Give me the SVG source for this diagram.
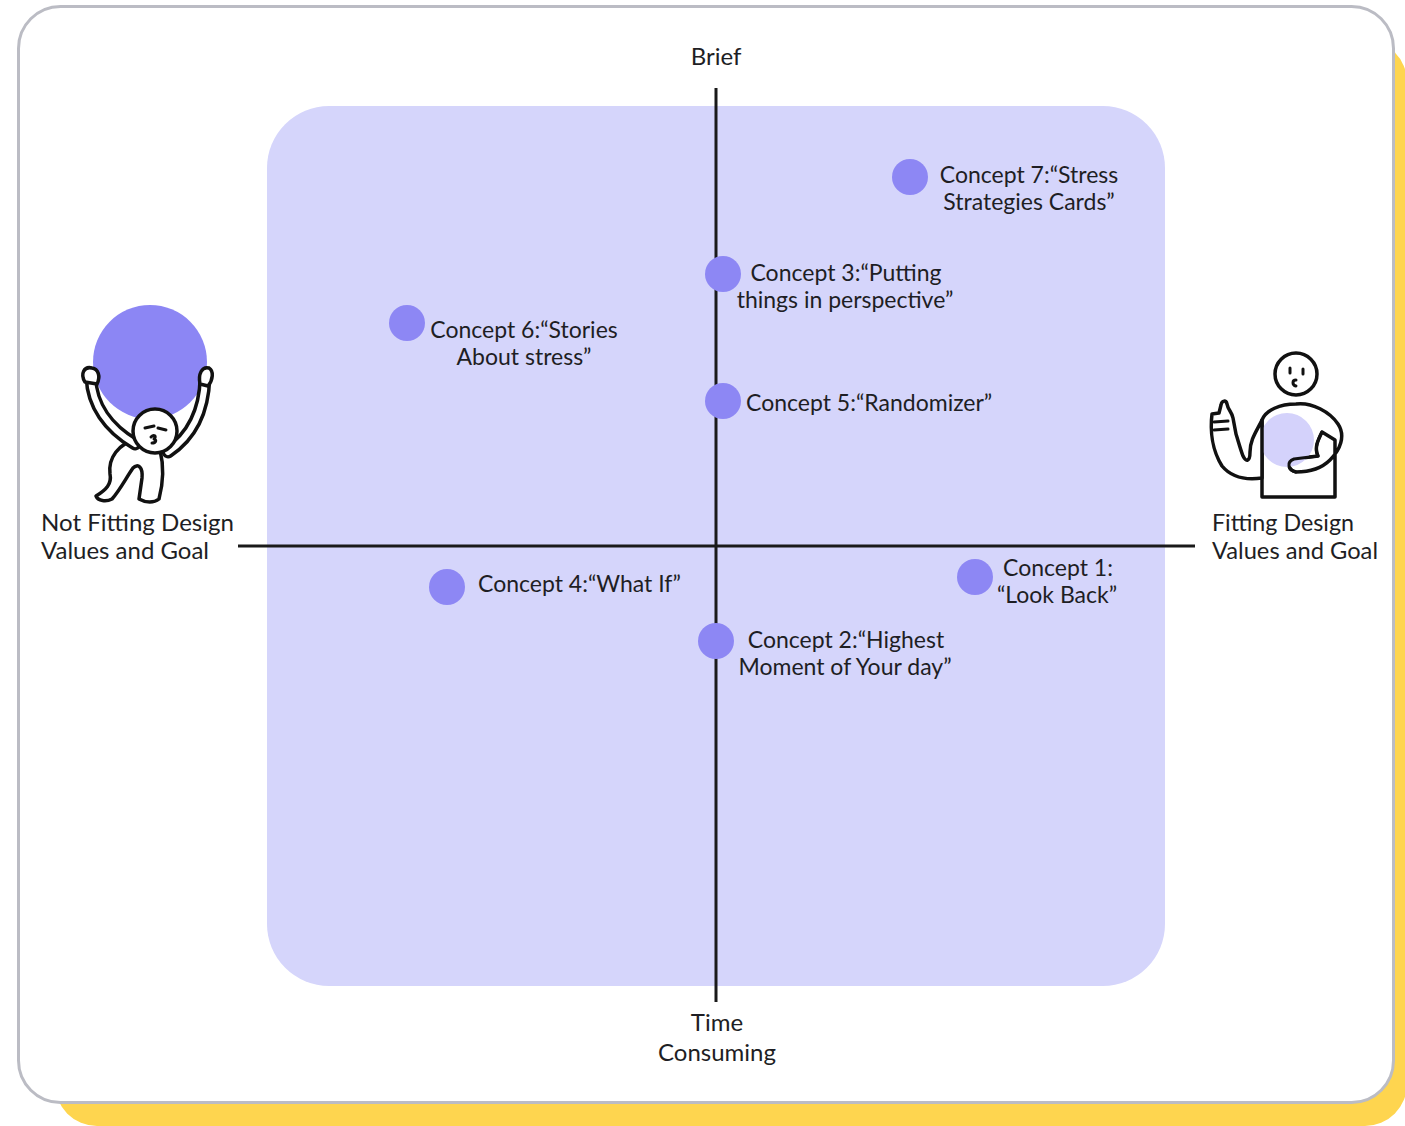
<svg xmlns="http://www.w3.org/2000/svg" width="1405" height="1126" viewBox="0 0 1405 1126">
  <defs>
    <style>
      .lbl { font-family: Lato, "Open Sans", "DejaVu Sans", sans-serif; font-size: 23px; fill: #1e1e24; }
      .ax { font-size: 24px; }
      .mid { text-anchor: middle; }
      .dot { fill: #8d87f4; }
      .axis { stroke: #1a1a1a; stroke-width: 3; fill: none; }
      .ink { stroke: #111; stroke-width: 3.5; fill: #fff; stroke-linecap: round; stroke-linejoin: round; }
      .line { stroke: #111; stroke-width: 3; fill: none; stroke-linecap: round; stroke-linejoin: round; }
    </style>
  </defs>

  <!-- card with yellow offset backing -->
  <rect x="55" y="40" width="1352" height="1086" rx="42" fill="#fed54f"/>
  <rect x="18.5" y="6.5" width="1375" height="1096" rx="42" fill="#ffffff" stroke="#bbbcc4" stroke-width="3"/>

  <!-- quadrant field -->
  <rect id="field" x="267" y="106" width="898" height="880" rx="62" fill="#d5d5fb"/>

  <!-- axes -->
  <g id="axes">
    <line class="axis" x1="716" y1="88" x2="716" y2="1002"/>
    <line class="axis" x1="238" y1="546" x2="1195" y2="546"/>
  </g>

  <!-- axis labels -->
  <g id="axis-top"><text class="lbl ax mid" x="716" y="65">Brief</text></g>
  <g id="axis-bottom">
    <text class="lbl ax mid" x="717" y="1031">Time</text>
    <text class="lbl ax mid" x="717" y="1061">Consuming</text>
  </g>
  <g id="axis-left">
    <text class="lbl ax" x="41" y="531" textLength="193" lengthAdjust="spacingAndGlyphs">Not Fitting Design</text>
    <text class="lbl ax" x="41" y="559" textLength="168" lengthAdjust="spacingAndGlyphs">Values and Goal</text>
  </g>
  <g id="axis-right">
    <text class="lbl ax" x="1212" y="531" textLength="142" lengthAdjust="spacingAndGlyphs">Fitting Design</text>
    <text class="lbl ax" x="1212" y="559" textLength="166" lengthAdjust="spacingAndGlyphs">Values and Goal</text>
  </g>

  <!-- concepts -->
  <g id="concept-7">
    <circle class="dot" cx="910" cy="177" r="18"/>
    <text class="lbl mid" x="1029" y="183">Concept 7:“Stress</text>
    <text class="lbl mid" x="1029" y="210">Strategies Cards”</text>
  </g>
  <g id="concept-3">
    <circle class="dot" cx="723" cy="274" r="18"/>
    <text class="lbl mid" x="846" y="281">Concept 3:“Putting</text>
    <text class="lbl mid" x="845" y="308">things in perspective”</text>
  </g>
  <g id="concept-6">
    <circle class="dot" cx="407" cy="323" r="18"/>
    <text class="lbl mid" x="524" y="338">Concept 6:“Stories</text>
    <text class="lbl mid" x="524" y="365">About stress”</text>
  </g>
  <g id="concept-5">
    <circle class="dot" cx="723" cy="401" r="18"/>
    <text class="lbl" x="746" y="411">Concept 5:“Randomizer”</text>
  </g>
  <g id="concept-4">
    <circle class="dot" cx="447" cy="587" r="18"/>
    <text class="lbl" x="478" y="592">Concept 4:“What If”</text>
  </g>
  <g id="concept-1">
    <circle class="dot" cx="975" cy="577" r="18"/>
    <text class="lbl mid" x="1058" y="576">Concept 1:</text>
    <text class="lbl mid" x="1057" y="603">“Look Back”</text>
  </g>
  <g id="concept-2">
    <circle class="dot" cx="716" cy="641" r="18"/>
    <text class="lbl mid" x="846" y="648">Concept 2:“Highest</text>
    <text class="lbl mid" x="845" y="675">Moment of Your day”</text>
  </g>

  <!-- figure straining under a heavy ball -->
  <g id="figure-heavy">
    <circle cx="150" cy="362" r="57" fill="#8c86f4"/>
    <!-- legs and torso -->
    <path class="ink" d="M138,438 C118,444 108,458 110,474 C112,484 106,490 96,496 C98,501 106,502 112,499 C120,490 126,478 133,468 C138,463 143,467 142,478 L139,499 C146,503 154,503 159,499 C163,484 164,466 160,450 Z"/>
    <!-- arms as outlined tubes -->
    <path d="M91,378 C92,405 108,428 135,444" fill="none" stroke="#111" stroke-width="13" stroke-linecap="round"/>
    <path d="M91,378 C92,405 108,428 135,444" fill="none" stroke="#fff" stroke-width="6" stroke-linecap="round"/>
    <path d="M205,378 C204,410 192,436 168,452" fill="none" stroke="#111" stroke-width="13" stroke-linecap="round"/>
    <path d="M205,378 C204,410 192,436 168,452" fill="none" stroke="#fff" stroke-width="6" stroke-linecap="round"/>
    <!-- fists -->
    <path class="ink" d="M85,382 C80,374 84,366 92,368 C98,369 101,376 97,384 Z"/>
    <path class="ink" d="M200,384 C198,374 202,366 209,368 C214,371 213,380 208,386 Z"/>
    <!-- head and face -->
    <circle class="ink" cx="155" cy="431" r="22"/>
    <path class="line" d="M145,428 L154,426 M158,428 L166,430 M151,437 C154,434 157,436 154,439 C157,440 156,443 152,443" stroke-width="2"/>
  </g>

  <!-- figure giving a thumbs up -->
  <g id="figure-happy">
    <!-- body -->
    <path class="ink" d="M1262,497 L1262,420 C1266,410 1280,404 1296,404 C1312,402 1330,412 1338,424 C1346,436 1340,450 1330,460 C1322,468 1312,472 1296,472 C1288,470 1286,462 1294,459 L1318,456 C1314,448 1318,440 1322,432 L1335,440 L1335,497 Z"/>
    <circle cx="1287" cy="440" r="27" fill="#d4d2fb"/>
    <path class="line" d="M1322,432 C1318,440 1314,448 1318,456 L1294,459 C1286,462 1288,470 1296,472" stroke-width="3.5"/>
    <!-- raised arm with thumb -->
    <path class="ink" d="M1262,420 C1256,432 1250,440 1250,452 C1250,462 1246,462 1243,456 C1240,448 1238,440 1236,434 L1233,418 C1232,412 1228,410 1227,404 C1226,400 1222,400 1221,405 L1219,413 L1212,414 C1210,430 1212,450 1222,466 C1232,478 1248,480 1262,478 Z"/>
    <path class="line" d="M1214,422 L1228,421 M1214,430 L1228,429" stroke-width="2.5"/>
    <!-- head and face -->
    <circle class="ink" cx="1296" cy="374" r="21"/>
    <path class="line" d="M1290,368 L1290,373 M1303,369 L1303,374 M1296,380 C1292,380 1292,385 1296,386" stroke-width="2.5"/>
  </g>
</svg>
